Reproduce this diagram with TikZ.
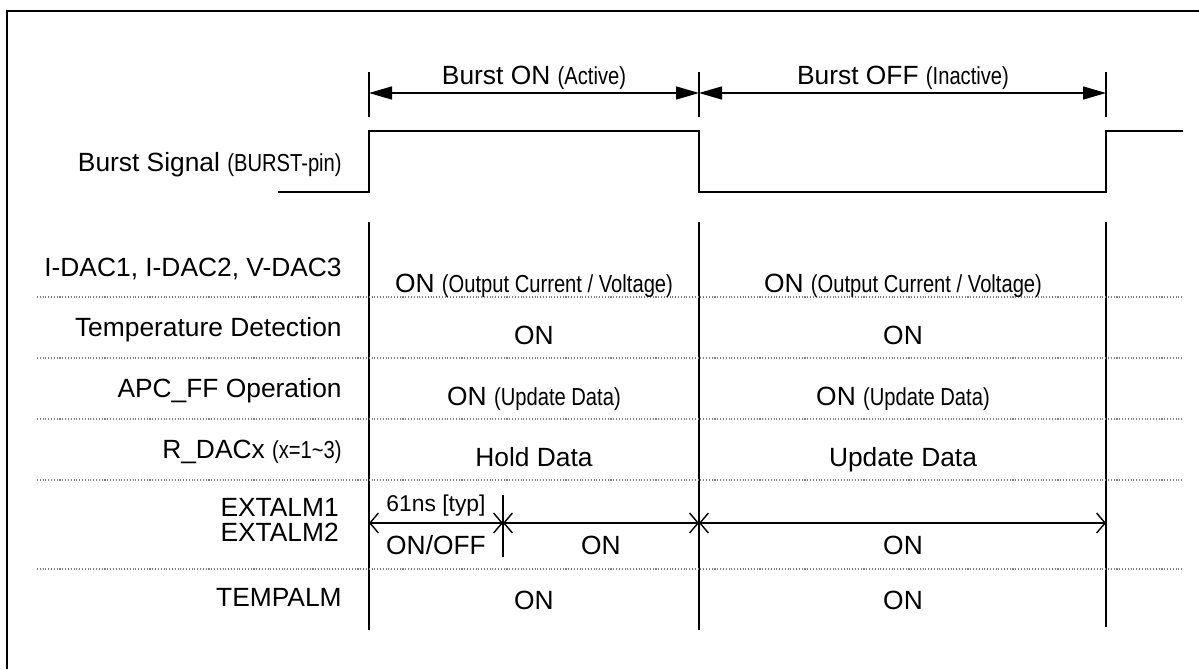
\documentclass[tikz,border=0pt]{standalone}
\usepackage{fontspec}
\setmainfont{Liberation Sans}
\newfontfamily\narrowfont[FakeStretch=0.82]{Liberation Sans}
\newcommand\narrowtxt[1]{{\narrowfont\fontsize{14}{17}\selectfont #1}}
\usetikzlibrary{arrows.meta}

\begin{document}
\begin{tikzpicture}[x=0.02cm, y=-0.02cm,
    lbl/.style={anchor=east, inner sep=0pt, text height=11pt, text depth=0pt, font=\fontsize{15}{18}\selectfont},
    val/.style={inner sep=0pt, text height=11pt, text depth=0pt, font=\fontsize{15}{18}\selectfont},
    sig/.style={line width=0.8pt},
    sep/.style={gray, densely dotted, line width=0.6pt},
    dim/.style={line width=0.8pt, {Triangle[length=0.46cm,width=0.26cm]}-{Triangle[length=0.46cm,width=0.26cm]}},
    span/.style={line width=0.8pt, {Straight Barb[length=0.17cm,width=0.4cm]}-{Straight Barb[length=0.17cm,width=0.4cm]}}]
  \useasboundingbox (0,0) rectangle (1199,669);
  % frame
  \draw[line width=1.4pt] (7,669) -- (7,11) -- (1199,11);

  % burst periods
  \foreach \x in {369,699,1106}
    \draw[sig] (\x,72) -- (\x,117);
  \coordinate (on0) at (369,93);
  \coordinate (on1) at (699,93);
  \coordinate (off1) at (1106,93);
  \draw[dim] (on0) -- (on1);
  \draw[dim] (on1) -- (off1);
  \node[val] (onlbl) at (534,75) {Burst ON \narrowtxt{(Active)}};
  \node[val] (offlbl) at (903,75) {Burst OFF \narrowtxt{(Inactive)}};

  % burst signal
  \node[lbl] (burst) at (342,162) {Burst Signal \narrowtxt{(BURST-pin)}};
  \draw[sig] (278,192) -- (369,192) -- (369,131) -- (699,131) -- (699,192)
    -- (1106,192) -- (1106,131) -- (1183,131);

  % table grid
  \foreach \x/\e in {369/630, 699/630, 1106/627}
    \draw[sig] (\x,222) -- (\x,\e);
  \foreach \y in {297,358,419,480,569}
    \draw[sep] (37,\y) -- (1183,\y);

  % rows
  \node[lbl] (dac) at (342,267) {I-DAC1, I-DAC2, V-DAC3};
  \node[val] (dacon) at (534,283) {ON \narrowtxt{(Output Current / Voltage)}};
  \node[val] (dacoff) at (903,283) {ON \narrowtxt{(Output Current / Voltage)}};

  \node[lbl] (temp) at (342,327) {Temperature Detection};
  \node[val] (tempon) at (534,335) {ON};
  \node[val] (tempoff) at (903,335) {ON};

  \node[lbl] (apc) at (342,388) {APC\_FF Operation};
  \node[val] (apcon) at (534,396) {ON \narrowtxt{(Update Data)}};
  \node[val] (apcoff) at (903,396) {ON \narrowtxt{(Update Data)}};

  \node[lbl] (rdac) at (342,449) {R\_DACx \narrowtxt{(x=1\textasciitilde 3)}};
  \node[val] (rdacon) at (534,457) {Hold Data};
  \node[val] (rdacoff) at (903,457) {Update Data};

  \node[lbl] (ext1) at (339,507) {EXTALM1};
  \node[lbl] (ext2) at (339,532) {EXTALM2};
  \draw[sig] (503,495) -- (503,557);
  \coordinate (e0) at (369,523);
  \coordinate (e1) at (503,523);
  \coordinate (e2) at (699,523);
  \coordinate (e3) at (1106,523);
  \draw[span] (e0) -- (e1);
  \draw[span] (e1) -- (e2);
  \draw[span] (e2) -- (e3);
  \node[val, font=\fontsize{13}{16}\selectfont] (typ) at (436,502) {61ns [typ]};
  \node[val] (extsw) at (436,545) {ON/OFF};
  \node[val] (exton) at (601,545) {ON};
  \node[val] (extoff) at (903,545) {ON};

  \node[lbl] (tempalm) at (342,597) {TEMPALM};
  \node[val] (talmon) at (534,600) {ON};
  \node[val] (talmoff) at (903,600) {ON};
\end{tikzpicture}
\end{document}
